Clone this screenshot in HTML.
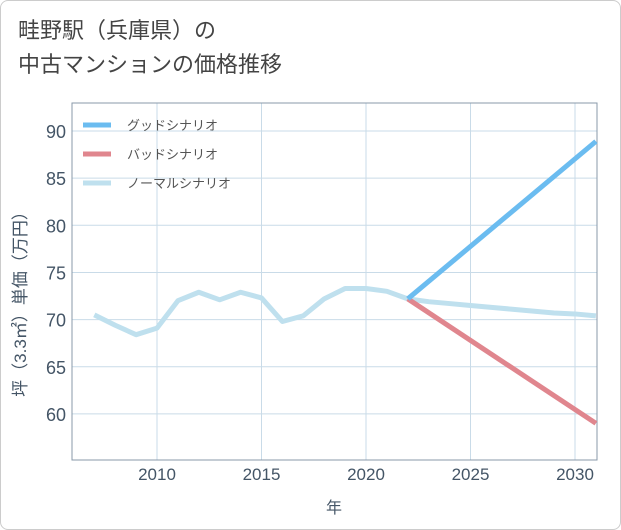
<!DOCTYPE html>
<html><head><meta charset="utf-8"><style>
body{margin:0;background:#fff;}
#wrap{position:relative;width:621px;height:530px;font-family:"Liberation Sans","Noto Sans CJK JP",sans-serif;}
#frame{position:absolute;left:0;top:0;width:619px;height:528px;border:1px solid #ccc;border-radius:8px;}
#title{position:absolute;left:18px;top:14px;font-size:22px;line-height:34px;color:#444;}
</style></head><body>
<div id="wrap">
<div id="frame"></div>
<div id="title">畦野駅（兵庫県）の<br>中古マンションの価格推移</div>
<svg id="svg" width="621" height="530" style="position:absolute;left:0;top:0"></svg>
</div>
<script>
const normalYears=[2007,2008,2009,2010,2011,2012,2013,2014,2015,2016,2017,2018,2019,2020,2021,2022,2023,2024,2025,2026,2027,2028,2029,2030,2031];
const normalVals=[70.5,69.4,68.4,69.1,72.0,72.9,72.1,72.9,72.3,69.8,70.4,72.2,73.3,73.3,73.0,72.2,71.9,71.7,71.5,71.3,71.1,70.9,70.7,70.6,70.4];
const goodYears=[2022,2031];
const goodVals=[72.2,88.9];
const badYears=[2022,2031];
const badVals=[72.2,59.0];
const xTicks=[2010,2015,2020,2025,2030];
const yTicks=[60,65,70,75,80,85,90];
const L=72,R=597,T=103,B=460;
const x=v=>157+(v-2010)*20.9;
const y=v=>131+(90-v)*9.43;
const svg=document.getElementById('svg');
const NS='http://www.w3.org/2000/svg';
function mk(t,a,name){const e=document.createElementNS(NS,t);for(const k in a)e.setAttribute(k,a[k]);


svg.appendChild(e);return e;}
xTicks.forEach(t=>{mk('line',{x1:x(t),x2:x(t),y1:T,y2:B,stroke:'#c9dbe8','stroke-width':1},'x-gridline');
const tx=mk('text',{x:x(t),y:B+20,'text-anchor':'middle','font-size':17,fill:'#445566'},'x-tick-label');tx.textContent=t;});
yTicks.forEach(t=>{mk('line',{x1:L,x2:R,y1:y(t),y2:y(t),stroke:'#c9dbe8','stroke-width':1},'y-gridline');
const tx=mk('text',{x:L-6,y:y(t)+7,'text-anchor':'end','font-size':18,fill:'#445566'},'y-tick-label');tx.textContent=t;});
mk('rect',{x:L,y:T,width:R-L,height:B-T,fill:'none',stroke:'#8899aa','stroke-width':1},'plot-border');
function line(xs,vs,c,name){mk('polyline',{points:xs.map((d,i)=>x(d)+','+y(vs[i])).join(' '),fill:'none',stroke:c,'stroke-width':5,'stroke-linejoin':'round'},name);}
line(normalYears,normalVals,'#bfe0ee','normal-scenario-line');
line(badYears,badVals,'#e0868e','bad-scenario-line');
line(goodYears,goodVals,'#6bbcf0','good-scenario-line');
const leg=[['グッドシナリオ','#6bbcf0'],['バッドシナリオ','#e0868e'],['ノーマルシナリオ','#bfe0ee']];
leg.forEach((l,i)=>{const ly=125+i*29;
mk('line',{x1:83,x2:111,y1:ly,y2:ly,stroke:l[1],'stroke-width':5},'legend-swatch');
const t=mk('text',{x:127,y:ly+5,'font-size':13,fill:'#555'},'legend-label');t.textContent=l[0];});
const xt=mk('text',{x:334,y:513,'text-anchor':'middle','font-size':16,fill:'#445566'},'x-axis-title');xt.textContent='年';
const yt=mk('text',{x:0,y:0,'text-anchor':'middle','font-size':17,fill:'#445566',transform:'translate(26,300) rotate(-90)'},'y-axis-title');yt.textContent='坪（3.3㎡）単価（万円）';
</script>
</body></html>
